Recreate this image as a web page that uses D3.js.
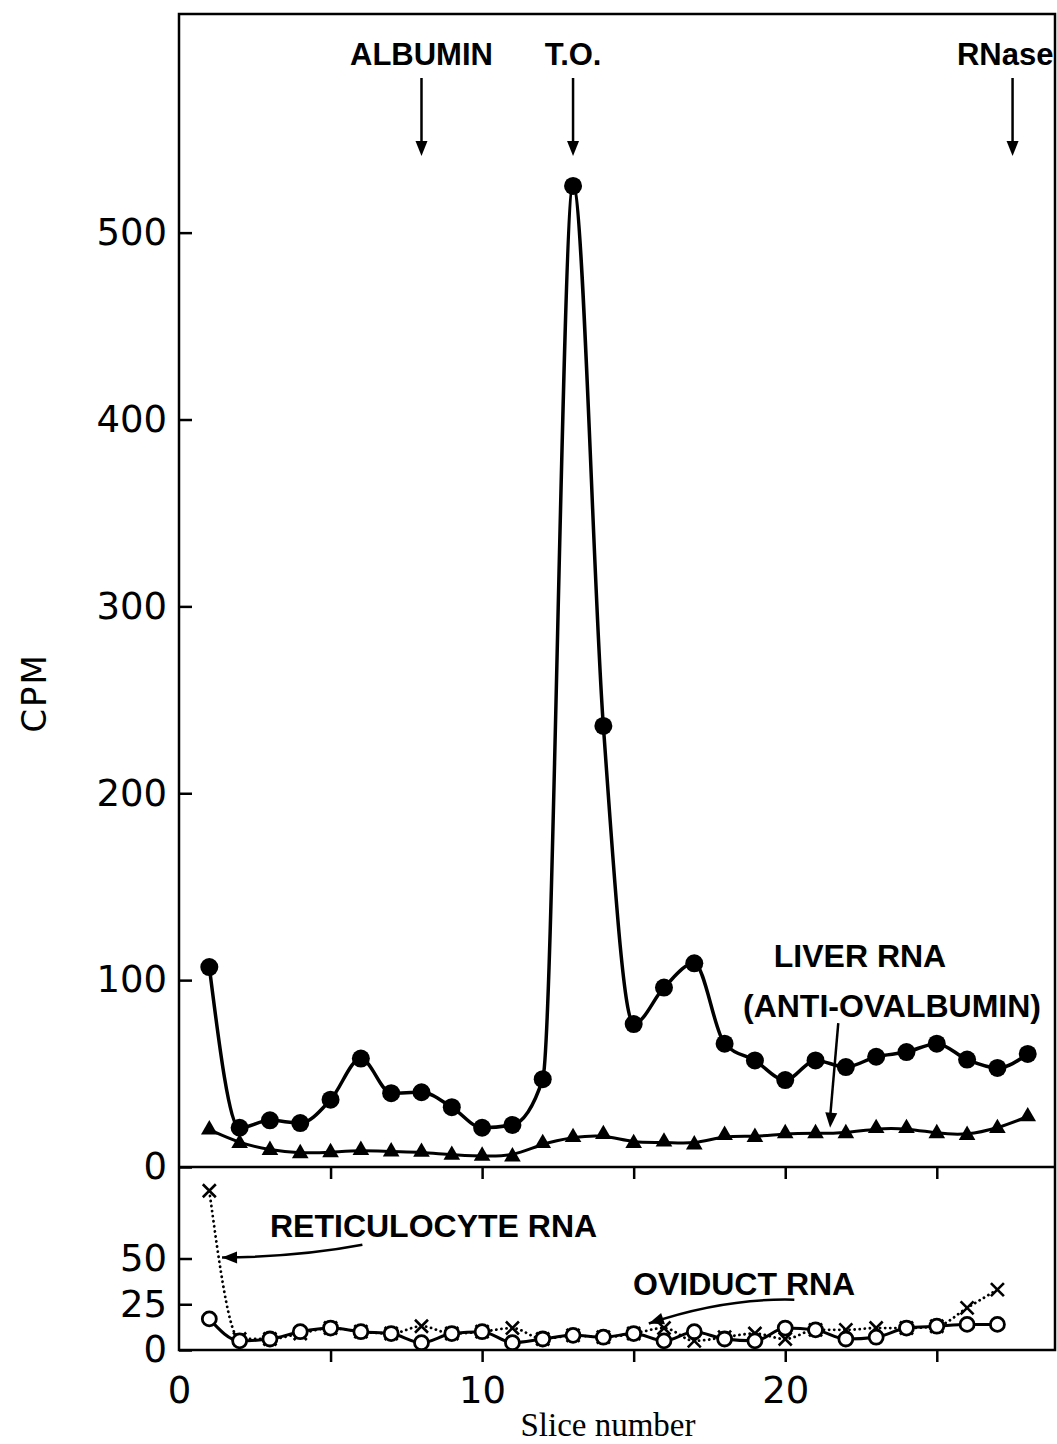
<!DOCTYPE html>
<html>
<head>
<meta charset="utf-8">
<script src="https://cdn.jsdelivr.net/npm/d3@7"></script>
<style>
  body { margin: 0; background: #fff; }
  svg text { fill: #000; }
</style>
</head>
<body>
<svg id="chart" width="1057" height="1444"></svg>
<script>
// slice numbers (x)
var slicesTop = [1,2,3,4,5,6,7,8,9,10,11,12,13,14,15,16,17,18,19,20,21,22,23,24,25,26,27,28];
var slicesLow = [1,2,3,4,5,6,7,8,9,10,11,12,13,14,15,16,17,18,19,20,21,22,23,24,25,26,27];

// upper panel, CPM
var oviductAnti = [107, 21, 25, 23.5, 36, 58, 39.5, 40, 32, 21, 22.5, 47, 525, 236,
                   76.5, 96, 109, 66, 57, 46.5, 57, 53.5, 59, 61.5, 66, 57.5, 53, 60.5];
var liverAnti   = [20, 12.7, 9, 7.3, 7.8, 9, 8.2, 8, 6.4, 5.9, 5.5, 12.7, 15.9, 17.5,
                   12.7, 13.5, 12, 17, 16, 18, 18, 18, 20.7, 20.7, 18, 17, 20.7, 27];

// lower panel, CPM
var reticulocyte = [87, 6, 6, 9, 12, 10, 9, 13, 9, 10, 12, 6, 8, 7, 9, 12, 5, 7, 9, 6,
                    11, 11, 12, 12, 13, 23, 33];
var oviductCtrl  = [17, 5, 6, 10, 12, 10, 9, 4, 9, 10, 4, 6, 8, 7, 9, 5, 10, 6, 5, 12,
                    11, 6, 7, 12, 13, 14, 14];

// tick labels
var topTicks = [0, 100, 200, 300, 400, 500];
var lowTicks = [0, 25, 50];
var xTicks = [5, 10, 15, 20, 25];
var xLabels = [0, 10, 20];

// markers above the gel
var markers = [
  {name: "ALBUMIN", slice: 8, tx: 8, anchor: "middle"},
  {name: "T.O.", slice: 13, tx: 13, anchor: "middle"},
  {name: "RNase", slice: 27.5, tx: 28.85, anchor: "end"}
];

var svg = d3.select("#chart");
var pLeft = 179, pRight = 1055, pTop = 14, pMid = 1167, pBottom = 1350;

var x = d3.scaleLinear().domain([0, 28.9]).range([pLeft, pRight]);
var yTop = d3.scaleLinear().domain([0, 617]).range([pMid, pTop]);
var yLow = d3.scaleLinear().domain([0, 100]).range([pBottom, pMid]);

var numFont = "'DejaVu Sans', sans-serif";
var labFont = "'Liberation Sans', Arial, sans-serif";

// left axes, ticks pointing in
var ga = svg.append("g").attr("transform", "translate(" + pLeft + ",0)")
  .call(d3.axisLeft(yTop).tickValues(topTicks).tickSize(-13).tickPadding(12));
var gb = svg.append("g").attr("transform", "translate(" + pLeft + ",0)")
  .call(d3.axisLeft(yLow).tickValues(lowTicks).tickSize(-13).tickPadding(12));
[ga, gb].forEach(function (g) {
  g.select(".domain").remove();
  g.selectAll("line").attr("stroke", "#000").attr("stroke-width", 2.5);
  g.selectAll("text").style("font-family", numFont).style("font-size", "37px");
});

// x ticks hanging under the separator and under the bottom
[pMid, pBottom].forEach(function (yy) {
  var g = svg.append("g").attr("transform", "translate(0," + yy + ")")
    .call(d3.axisBottom(x).tickValues(xTicks).tickSize(12).tickFormat(""));
  g.select(".domain").remove();
  g.selectAll("line").attr("stroke", "#000").attr("stroke-width", 2.5);
});
var gl = svg.append("g").attr("transform", "translate(0," + pBottom + ")")
  .call(d3.axisBottom(x).tickValues(xLabels).tickSize(0));
gl.select(".domain").remove();
gl.selectAll("text").attr("y", 53).attr("dy", 0)
  .style("font-family", numFont).style("font-size", "37px");

// frame
var frame = svg.append("g").attr("stroke", "#000").attr("stroke-width", 2.5).attr("fill", "none");
frame.append("rect").attr("x", pLeft).attr("y", pTop)
  .attr("width", pRight - pLeft).attr("height", pBottom - pTop);
frame.append("line").attr("x1", pLeft).attr("x2", pRight).attr("y1", pMid).attr("y2", pMid);

// axis titles
svg.append("text").attr("transform", "translate(46,693) rotate(-90)")
  .attr("text-anchor", "middle").style("font-family", numFont).style("font-size", "34px")
  .style("letter-spacing", "2px").text("CPM");
svg.append("text").attr("x", 608).attr("y", 1436).attr("text-anchor", "middle")
  .style("font-family", "'Liberation Serif', 'Times New Roman', serif").style("font-size", "33px")
  .text("Slice number");

function pts(xs, ys) { return xs.map(function (s, i) { return {s: s, v: ys[i]}; }); }

var lineTop = function (curve) {
  return d3.line().x(function (d) { return x(d.s); }).y(function (d) { return yTop(d.v); }).curve(curve);
};
var lineLow = function (curve) {
  return d3.line().x(function (d) { return x(d.s); }).y(function (d) { return yLow(d.v); }).curve(curve);
};

var oa = pts(slicesTop, oviductAnti), la = pts(slicesTop, liverAnti);
var rc = pts(slicesLow, reticulocyte), oc = pts(slicesLow, oviductCtrl);

// upper panel
svg.append("path").datum(la).attr("d", lineTop(d3.curveBasis))
  .attr("fill", "none").attr("stroke", "#000").attr("stroke-width", 3);
svg.append("path").datum(oa).attr("d", lineTop(d3.curveMonotoneX))
  .attr("fill", "none").attr("stroke", "#000").attr("stroke-width", 3.5);

svg.append("g").selectAll("path").data(la).join("path")
  .attr("transform", function (d) { return "translate(" + x(d.s) + "," + yTop(d.v) + ")"; })
  .attr("d", d3.symbol(d3.symbolTriangle, 120)).attr("fill", "#000");
svg.append("g").selectAll("circle").data(oa).join("circle")
  .attr("cx", function (d) { return x(d.s); }).attr("cy", function (d) { return yTop(d.v); })
  .attr("r", 9).attr("fill", "#000");

// lower panel
svg.append("path").datum(rc).attr("d", lineLow(d3.curveMonotoneX))
  .attr("fill", "none").attr("stroke", "#000").attr("stroke-width", 2.8)
  .attr("stroke-linecap", "round").attr("stroke-dasharray", "0.1 5");
svg.append("path").datum(oc).attr("d", lineLow(d3.curveMonotoneX))
  .attr("fill", "none").attr("stroke", "#000").attr("stroke-width", 3);

svg.append("g").selectAll("path").data(rc).join("path")
  .attr("d", function (d) {
    var cx = x(d.s), cy = yLow(d.v), h = 6.5;
    return "M" + (cx - h) + "," + (cy - h) + "L" + (cx + h) + "," + (cy + h) +
           "M" + (cx + h) + "," + (cy - h) + "L" + (cx - h) + "," + (cy + h);
  })
  .attr("stroke", "#000").attr("stroke-width", 2.6).attr("fill", "none");
svg.append("g").selectAll("circle").data(oc).join("circle")
  .attr("cx", function (d) { return x(d.s); }).attr("cy", function (d) { return yLow(d.v); })
  .attr("r", 7).attr("fill", "#fff").attr("stroke", "#000").attr("stroke-width", 2.8);

// arrows
function arrowHead(tx, ty, px, py) {
  var a = Math.atan2(ty - py, tx - px), L = 15, w = 6;
  var bx = tx - L * Math.cos(a), by = ty - L * Math.sin(a);
  var nx = -Math.sin(a) * w, ny = Math.cos(a) * w;
  svg.append("path")
    .attr("d", "M" + tx + "," + ty + "L" + (bx + nx) + "," + (by + ny) +
               "L" + (bx - nx) + "," + (by - ny) + "Z")
    .attr("fill", "#000");
}

markers.forEach(function (m) {
  var cx = x(m.slice);
  svg.append("text").attr("x", x(m.tx)).attr("y", 65).attr("text-anchor", m.anchor)
    .style("font-family", labFont).style("font-weight", "bold").style("font-size", "31px")
    .text(m.name);
  svg.append("line").attr("x1", cx).attr("x2", cx).attr("y1", 78).attr("y2", 145)
    .attr("stroke", "#000").attr("stroke-width", 2.5);
  arrowHead(cx, 156, cx, 78);
});

function label(txt, px, py, anchor) {
  svg.append("text").attr("x", px).attr("y", py).attr("text-anchor", anchor || "start")
    .style("font-family", labFont).style("font-weight", "bold").style("font-size", "32px")
    .text(txt);
}
label("LIVER RNA", 860, 967, "middle");
label("(ANTI-OVALBUMIN)", 892, 1017, "middle");
label("RETICULOCYTE RNA", 270, 1237);
label("OVIDUCT RNA", 633, 1295);

// liver arrow (upper panel units)
var la0 = [x(21.75), yTop(77)], la1 = [x(21.48), yTop(21)];
svg.append("line").attr("x1", la0[0]).attr("y1", la0[1]).attr("x2", la1[0]).attr("y2", la1[1] - 10)
  .attr("stroke", "#000").attr("stroke-width", 2.5);
arrowHead(la1[0], la1[1], la0[0], la0[1]);

// curved arrows (lower panel units)
function curved(s0, v0, sc, vc, s1, v1) {
  var p0 = [x(s0), yLow(v0)], pc = [x(sc), yLow(vc)], p1 = [x(s1), yLow(v1)];
  svg.append("path")
    .attr("d", "M" + p0 + "Q" + pc + " " + p1)
    .attr("fill", "none").attr("stroke", "#000").attr("stroke-width", 2.5);
  arrowHead(p1[0], p1[1], pc[0], pc[1]);
}
curved(6.05, 57.5, 4.0, 51, 1.42, 50.5);
curved(20.3, 27.5, 18.0, 28.5, 15.5, 14.5);
</script>
</body>
</html>
